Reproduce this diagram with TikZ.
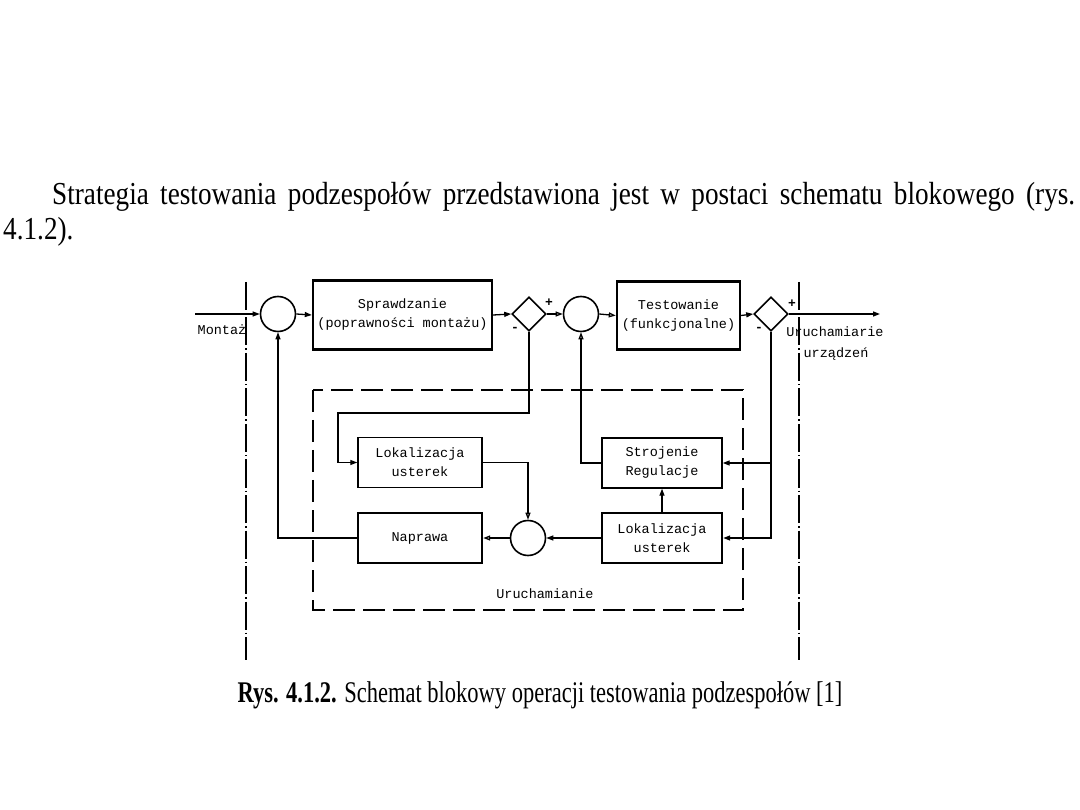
\documentclass[tikz,border=0pt]{standalone}
\usepackage{fontspec}
\setmainfont{Liberation Serif}
\setmonofont{Liberation Mono}
\newfontfamily\parfont[FakeStretch=0.85]{Liberation Serif}
\newfontfamily\capfont[FakeStretch=0.75]{Liberation Serif}
\usetikzlibrary{shapes.geometric,arrows.meta}
\begin{document}
\begin{tikzpicture}[x=1pt,y=-1pt,
  blk/.style={draw,line width=1.4pt,rectangle,inner sep=0pt,align=center,font=\ttfamily\fontsize{13.5}{19}\selectfont},
  tblk/.style={blk,line width=2.4pt},
  sumc/.style={draw,circle,line width=1.6pt,minimum size=35pt,inner sep=0pt},
  sumd/.style={draw,diamond,line width=1.6pt,minimum width=34pt,minimum height=34pt,inner sep=0pt},
  conn/.style={line width=1.3pt},
  fa/.style={conn,-{Triangle[length=7pt,width=5pt]}},
  oa/.style={conn,-{Triangle[open,length=7pt,width=5pt]}},
  dashdot/.style={line width=1.3pt,dash pattern=on 28pt off 3pt on 1.5pt off 3pt},
  dashbox/.style={line width=1.3pt,dash pattern=on 22pt off 8pt},
  lbl/.style={font=\ttfamily\fontsize{13.5}{16}\selectfont,inner sep=0pt},
  sgn/.style={font=\ttfamily\bfseries\fontsize{13}{13}\selectfont,inner sep=0pt},
  ptxt/.style={anchor=base west,inner sep=0pt,font=\parfont\fontsize{32}{36}\selectfont}]
\useasboundingbox[fill=white] (0,0) rectangle (1080,810);

% paragraph
\node[ptxt] (p1) at (52,205)
  {\makebox[1023pt][s]{Strategia testowania podzespołów przedstawiona jest w postaci schematu blokowego (rys.}};
\node[ptxt] (p2) at (3,240) {4.1.2).};

% dash-dot verticals
\draw[dashdot] (246,282) -- (246,660);
\draw[dashdot] (799,282) -- (799,660);

% dashed box
\draw[dashbox] (313,390) rectangle (743,610);

% top chain
\coordinate (in) at (195,314);
\node[sumc] (c1) at (278,314) {};
\node[tblk,minimum width=179pt,minimum height=69pt] (sp) at (402.5,315) {Sprawdzanie\\(poprawności montażu)};
\node[sumd] (d1) at (529,314) {};
\node[sumc] (c2) at (581,314) {};
\node[tblk,minimum width=123pt,minimum height=68pt] (te) at (678.5,315.5) {Testowanie\\(funkcjonalne)};
\node[sumd] (d2) at (771,314) {};
\coordinate (out) at (880,314);

% lower blocks
\node[blk,minimum width=124pt,minimum height=50pt] (l1) at (420,462.5) {Lokalizacja\\usterek};
\node[tblk,minimum width=124pt,minimum height=50pt] (np) at (420,538) {Naprawa};
\node[sumc] (c3) at (528,538) {};
\node[blk,minimum width=120pt,minimum height=50pt] (st) at (662,463) {Strojenie\\Regulacje};
\node[tblk,minimum width=120pt,minimum height=50pt] (l2) at (662,538) {Lokalizacja\\usterek};

% labels
\node[lbl] (mo) at (222,330) {Montaż};
\node[lbl] (ur) at (835,332) {Uruchamiarie};
\node[lbl] (uz) at (836,354) {urządzeń};
\node[lbl] (un) at (545,594) {Uruchamianie};
\node[sgn] (p1s) at (549,303) {+};
\node[sgn] (m1s) at (515,329) {-};
\node[sgn] (p2s) at (792,304) {+};
\node[sgn] (m2s) at (759,329) {-};

% connectors
\draw[fa] (in) -- (c1.west);
\draw[fa] (c1.east) -- (sp.west);
\draw[fa] (sp.east) -- (d1.west);
\draw[oa] (d1.east) -- (c2.west);
\draw[oa] (c2.east) -- (te.west);
\draw[fa] (te.east) -- (d2.west);
\draw[fa] (d2.east) -- (out);

\draw[fa] (d1.south) |- (338,413) |- (l1.west);
\draw[oa] (l1.east) -| (c3.north);
\draw[oa] (c3.west) -- (np.east);
\draw[fa] (np.west) -| (c1.south);
\draw[fa] (l2.west) -- (c3.east);
\draw[fa] (d2.south) |- (l2.east);
\coordinate (br) at (d2.south |- st.east);
\draw[fa] (br) -- (st.east);
\draw[oa] (st.west) -| (c2.south);
\draw[fa] (l2.north) -- (st.south);

% caption
\node[anchor=base,inner sep=0pt,font=\capfont\fontsize{30}{34}\selectfont] (cap) at (540,702)
  {\textbf{Rys. 4.1.2.} Schemat blokowy operacji testowania podzespołów [1]};
\end{tikzpicture}
\end{document}
